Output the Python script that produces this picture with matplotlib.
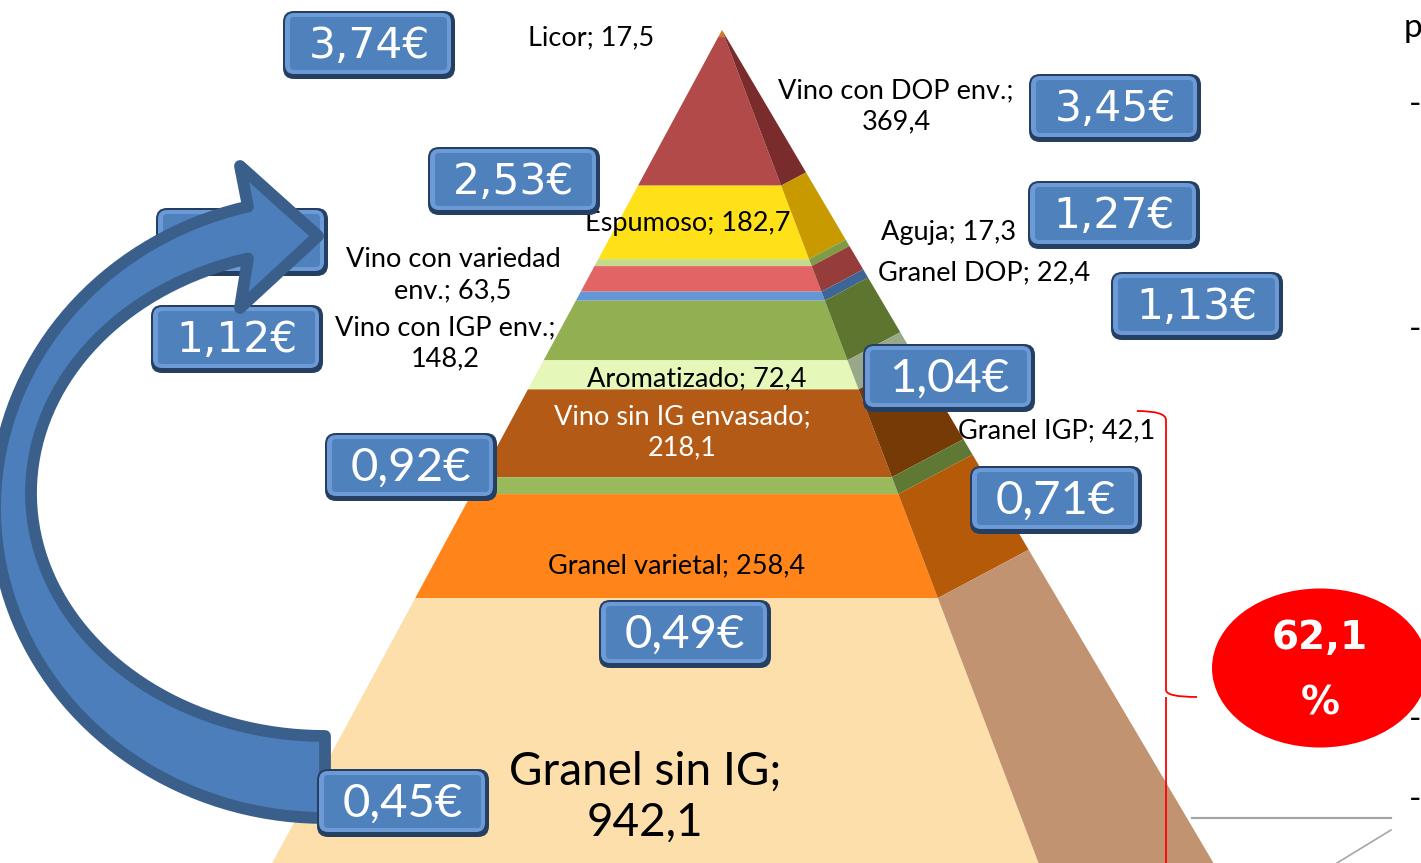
import matplotlib.pyplot as plt
from matplotlib.patches import Polygon, FancyBboxPatch, Ellipse, PathPatch
from matplotlib.path import Path
import numpy as np

plt.rcParams['font.family'] = ['Lato', 'DejaVu Sans']

# datos, de la punta a la base de la pirámide (millones de litros)
categorias = ['Licor', 'Vino con DOP env.', 'Espumoso', 'Aguja', 'Vino con variedad env.',
              'Granel DOP', 'Vino con IGP env.', 'Aromatizado', 'Vino sin IG envasado',
              'Granel IGP', 'Granel varietal', 'Granel sin IG']
volumen = [17.5, 369.4, 182.7, 17.3, 63.5, 22.4, 148.2, 72.4, 218.1, 42.1, 258.4, 942.1]
precios = ['3,74€', '3,45€', '2,53€', '1,27€', None, '1,13€', '1,12€', '1,04€',
           '0,92€', '0,71€', '0,49€', '0,45€']
cuota_granel = '62,1'

# colores (cara frontal, cara lateral)
col_frente = ['#D27A22', '#B34A4A', '#FFE119', '#C4DA8C', '#E26464', '#6497D8',
              '#92AF52', '#E5F7B9', '#B35B16', '#9AB95C', '#FF851A', '#FDDFAB']
col_lado = ['#8F4A10', '#7A2B2B', '#C89A00', '#7E9B45', '#963C3A', '#3D6596',
            '#5E7530', '#9AA88A', '#753A06', '#5F7935', '#B45A08', '#C19371']

# geometría de la pirámide (en píxeles)
apex_x, apex_y = 722, 30
escala = 0.4023
pend_izq, pend_der, pend_fondo, k_fondo = 0.54, 0.38, 0.59, 0.915

fig = plt.figure(figsize=(14.21, 8.63), dpi=100)
ax = fig.add_axes([0, 0, 1, 1])
ax.set_xlim(0, 1421)
ax.set_ylim(863, 0)
ax.axis('off')

# suelo del gráfico 3D
ax.plot([1192, 1391], [818, 818], color='#A6A6A6', lw=1.6, zorder=0)
ax.plot([1391, 1337], [830, 863], color='#A6A6A6', lw=1.2, zorder=0)

lim = apex_y + escala * np.concatenate([[0], np.cumsum(volumen)])


def x_izq(y):
    return apex_x - pend_izq * (y - apex_y)


def x_der(y):
    return apex_x + pend_der * (y - apex_y)


def fondo(y):
    yb = apex_y + k_fondo * (y - apex_y)
    return apex_x + pend_fondo * (yb - apex_y), yb


for i in range(len(volumen)):
    t, b = lim[i], lim[i + 1]
    ax.add_patch(Polygon([(x_izq(t), t), (x_der(t), t), (x_der(b), b), (x_izq(b), b)],
                         closed=True, fc=col_frente[i], ec='none', zorder=1))
    ax.add_patch(Polygon([(x_der(t), t), (x_der(b), b), fondo(b), fondo(t)],
                         closed=True, fc=col_lado[i], ec='none', zorder=1))

# etiquetas de categoría
pos_etiq = [(591, 38), (896, 106), (688, 223), (949, 232), (453, 275), (984, 273),
            (445, 343), (697, 379), (682, 432), (1057, 431), (677, 566), (645, 797)]
partir = {1: '; ', 4: 'variedad ', 6: '; ', 8: '; ', 11: '; '}
for i, (cat, v) in enumerate(zip(categorias, volumen)):
    txt = f'{cat}; {str(v).replace(".", ",")}'
    if i in partir:
        s = partir[i]
        txt = txt.replace(s, s.rstrip() + '\n', 1)
    size = 33 if i == 11 else 19.5
    color = 'white' if i == 8 else 'black'
    ax.text(*pos_etiq[i], txt, ha='center', va='center', fontsize=size, color=color,
            linespacing=1.25 if i == 11 else 1.3, zorder=3)

# cajas de precio
pos_caja = [(369, 45), (1115, 108), (514, 181), (1114, 215), (242, 242), (1197, 306),
            (237, 339), (949, 378), (411, 467), (1056, 500), (685, 634), (403, 803)]
ancha = [True, True, True, True, True, True, True, False, False, False, False, False]
w, h = 172, 68


def caja(cx, cy, z):
    x0, y0 = cx - w / 2, cy - h / 2
    ax.add_patch(FancyBboxPatch((x0, y0), w, h, boxstyle='round,pad=0,rounding_size=11',
                                fc='#253F62', ec='none', zorder=z))
    ax.add_patch(FancyBboxPatch((x0 + 2, y0 + 2), w - 6, h - 7, boxstyle='round,pad=0,rounding_size=9',
                                fc='#6C9AD6', ec='none', zorder=z))
    ax.add_patch(FancyBboxPatch((x0 + 7, y0 + 6), w - 15, h - 15, boxstyle='round,pad=0,rounding_size=4',
                                fc='#4F81BD', ec='none', zorder=z))


for i, p in enumerate(precios):
    z = 6 if i == 11 else 4
    caja(*pos_caja[i], z)
    if p is None:
        continue
    if ancha[i]:
        ax.text(pos_caja[i][0], pos_caja[i][1] + 1, p, ha='center', va='center', fontsize=30.5,
                color='white', family='DejaVu Sans', zorder=z)
    else:
        ax.text(pos_caja[i][0], pos_caja[i][1] + 1, p, ha='center', va='center', fontsize=34,
                color='white', zorder=z)

# flecha curva
t_ext = np.radians(np.linspace(90, 256.5, 80))
t_int = np.radians(np.linspace(254.8, 90, 80))
ext = np.column_stack([325 + 330 * np.cos(t_ext), 508 + 310 * np.sin(t_ext)])
inter = np.column_stack([325 + 294 * np.cos(t_int), 493 + 243 * np.sin(t_int)])
punta = np.array([[240, 166], [318, 236], [240, 308]])
verts = np.vstack([ext, punta, inter, ext[:1]])
codes = [Path.MOVETO] + [Path.LINETO] * (len(verts) - 2) + [Path.CLOSEPOLY]
ax.add_patch(PathPatch(Path(verts, codes), fc='#4C7EBB', ec='#3A5F8B', lw=8.5,
                       joinstyle='round', zorder=5))

# llave roja y porcentaje
llave = [(1137, 411), (1166, 411), (1166, 420), (1166, 690), (1166, 697), (1197, 697),
         (1166, 697), (1166, 704), (1166, 870)]
cod_llave = [Path.MOVETO, Path.CURVE3, Path.CURVE3, Path.LINETO, Path.CURVE3, Path.CURVE3,
             Path.MOVETO, Path.CURVE3, Path.LINETO]
ax.add_patch(PathPatch(Path(llave, cod_llave), fc='none', ec='#FF0000', lw=1.3, zorder=2))
ax.add_patch(Ellipse((1320, 668), 216, 159, fc='#FF0000', ec='none', zorder=2))
ax.text(1320, 638, cuota_granel, ha='center', va='center', fontsize=28, fontweight='bold',
        color='white', family='DejaVu Sans', zorder=3)
ax.text(1320, 703, '%', ha='center', va='center', fontsize=28, fontweight='bold',
        color='white', family='DejaVu Sans', zorder=3)

# restos de texto de la diapositiva a la derecha
ax.text(1404, 28, 'p', ha='left', va='center', fontsize=24, zorder=3)
for yy in [105, 330, 720, 800]:
    ax.text(1409, yy, '-', ha='left', va='center', fontsize=24, zorder=3)

fig.savefig('out.png', dpi=100)
